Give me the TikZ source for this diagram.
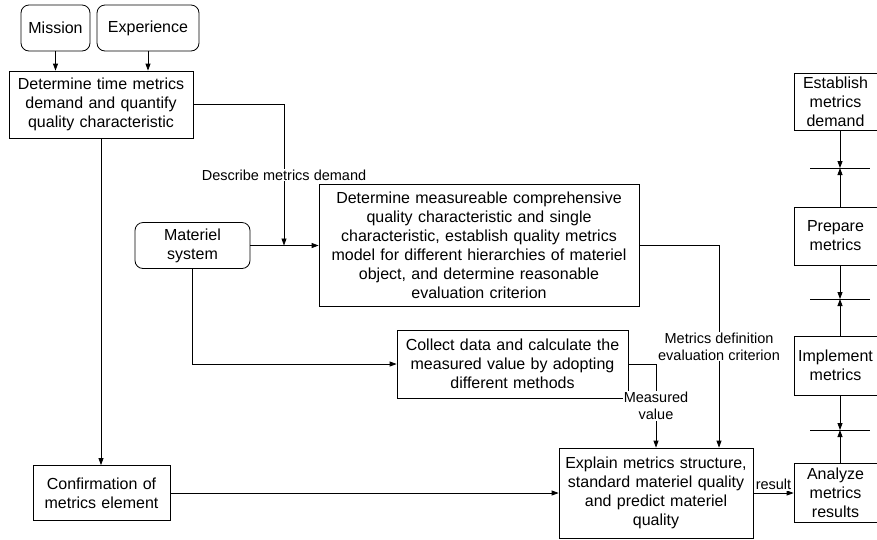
\documentclass[tikz,border=0pt]{standalone}
\usepackage{fontspec}
\setmainfont{Liberation Sans}
\usetikzlibrary{arrows.meta}

\begin{document}
\begin{tikzpicture}[x=1pt,y=-1pt,
	>={Triangle[length=7pt,width=5pt]},
	box/.style={draw, line width=0.8pt, inner sep=0pt, align=center, font=\fontsize{16}{19}\selectfont},
	rbox/.style={box, rounded corners=8pt},
	lbl/.style={fill=white, inner sep=1pt, align=center, font=\fontsize{14.5}{17}\selectfont},
	link/.style={->, line width=0.8pt}]

	\useasboundingbox (0,0) rectangle (877,539);

	\node 	(mission)	at	(55.5,28) 	[rbox, text width=69pt, minimum height=46pt]{Mission};

	\node 	(experience)	at	(148,28) 	[rbox, text width=102pt, minimum height=46pt]{Experience};

	\node 	(timedemand)	at	(101,104.5) 	[box, text width=184pt, minimum height=67pt]{Determine time metrics\\demand and quantify\\quality characteristic};

	\node 	(materiel)	at	(192.5,245.5) 	[rbox, text width=115pt, minimum height=46pt]{Materiel\\system};

	\node 	(measurable)	at	(479,245.5) 	[box, text width=320pt, minimum height=122pt]{Determine measureable comprehensive\\quality characteristic and single\\characteristic, establish quality metrics\\model for different hierarchies of materiel\\object, and determine reasonable\\evaluation criterion};

	\node 	(collect)	at	(512.5,364) 	[box, text width=231pt, minimum height=68pt]{Collect data and calculate the\\measured value by adopting\\different methods};

	\node 	(confirm)	at	(101.5,493) 	[box, text width=137pt, minimum height=55pt]{Confirmation of\\metrics element};

	\node 	(explain)	at	(656,493) 	[box, text width=194pt, minimum height=90pt]{Explain metrics structure,\\standard materiel quality\\and predict materiel\\quality};


	\node 	(establish)	at	(835.5,101.5) 	[box, text width=83pt, minimum height=57pt]{Establish\\metrics\\demand};

	\node 	(prepare)	at	(835.5,236) 	[box, text width=83pt, minimum height=58pt]{Prepare\\metrics};

	\node 	(implement)	at	(835.5,365.5) 	[box, text width=83pt, minimum height=59pt]{Implement\\metrics};

	\node 	(analyze)	at	(835.5,493) 	[box, text width=83pt, minimum height=59pt]{Analyze\\metrics\\results};

	\coordinate 	(demand)	at	(284,245.5);
	\coordinate 	(sep1)	at	(840,168);
	\coordinate 	(sep2)	at	(840,299);
	\coordinate 	(sep3)	at	(840,430);

	\draw[link]	(mission.south)	--	(mission.south |- timedemand.north);
	\draw[link]	(experience.south)	--	(experience.south |- timedemand.north);
	\draw[link]	(timedemand.south)	--	(timedemand.south |- confirm.north);
	\draw[link]	(timedemand.east)	-|	node[lbl,pos=0.75]{Describe metrics demand}	(demand);
	\draw[link]	(materiel.east)	--	(measurable.west);
	\draw[link]	(materiel.south)	|-	(collect.west);
	\draw[link]	(measurable.east)	-|	node[lbl,pos=0.75]{Metrics definition\\evaluation criterion}	([xshift=63pt]explain.north);
	\draw[link]	(collect.east)	-|	node[lbl,pos=0.75]{Measured\\value}	(explain.north);
	\draw[link]	(confirm)	--	(explain);
	\draw[link]	(explain)	--	node[lbl,above=2pt]{result}	(analyze);

	\draw[link]	(establish.south -| sep1)	--	(sep1);
	\draw[link]	(prepare.north -| sep1)	--	(sep1);
	\draw[line width=0.8pt]	([xshift=-30pt]sep1)	--	([xshift=30pt]sep1);

	\draw[link]	(prepare.south -| sep2)	--	(sep2);
	\draw[link]	(implement.north -| sep2)	--	(sep2);
	\draw[line width=0.8pt]	([xshift=-30pt]sep2)	--	([xshift=30pt]sep2);

	\draw[link]	(implement.south -| sep3)	--	(sep3);
	\draw[link]	(analyze.north -| sep3)	--	(sep3);
	\draw[line width=0.8pt]	([xshift=-30pt]sep3)	--	([xshift=30pt]sep3);

\end{tikzpicture}
\end{document}
